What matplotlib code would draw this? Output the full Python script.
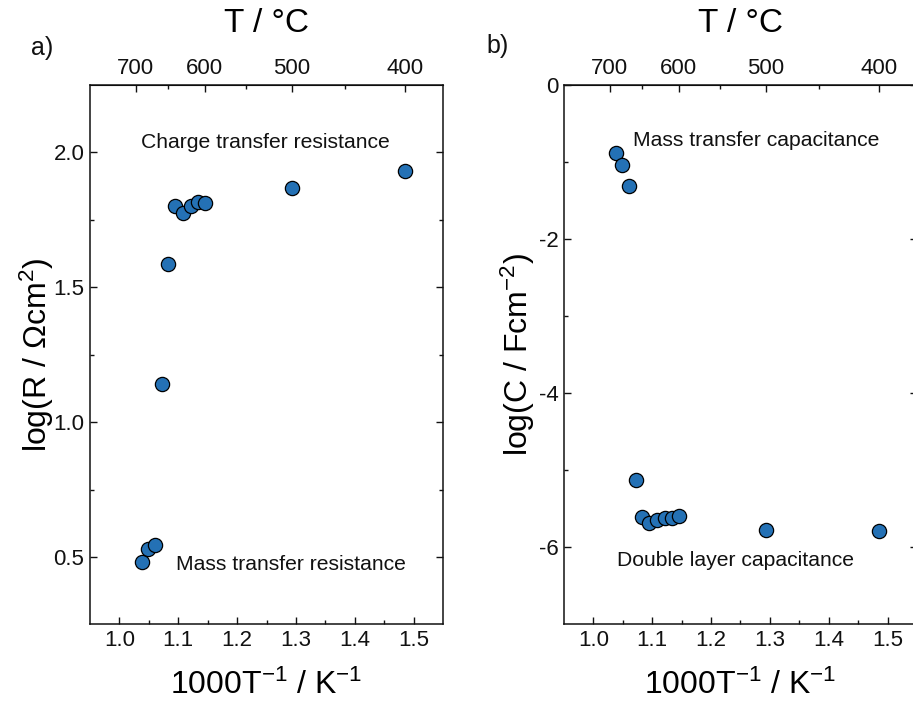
import matplotlib
matplotlib.use("Agg")
import matplotlib.pyplot as plt
import numpy as np

plt.rcParams["font.family"] = ["Liberation Sans", "DejaVu Sans"]
plt.rcParams["mathtext.fontset"] = "custom"
plt.rcParams["mathtext.rm"] = "Liberation Sans"
plt.rcParams["mathtext.it"] = "Liberation Sans:italic"
plt.rcParams["mathtext.bf"] = "Liberation Sans:bold"

# 1000/T values (same temperatures in both panels)
inv_T = [1.038, 1.049, 1.060, 1.072, 1.083, 1.095, 1.108, 1.121, 1.133, 1.146, 1.293, 1.486]

# panel a: log(R / Ohm cm2)
log_R = [0.48, 0.53, 0.545, 1.14, 1.585, 1.80, 1.775, 1.80, 1.815, 1.812, 1.867, 1.93]

# panel b: log(C / F cm-2)
log_C = [-0.88, -1.04, -1.31, -5.12, -5.61, -5.685, -5.64, -5.62, -5.615, -5.595, -5.77, -5.79]

temp_major = [700, 600, 500, 400]
temp_minor = [650, 550, 450]

BLUE = "#2471b5"
INK = "#111111"
TICK_FS = 16
LABEL_FS = 23
NOTE_FS = 15.2


def _safe(v):
    v = np.asarray(v, dtype=float)
    return np.where(np.abs(v) < 1e-9, 1e-9, v)


def to_celsius(x):
    return 1000.0 / _safe(x) - 273.15


def to_inv(t):
    return 1000.0 / _safe(np.asarray(t, dtype=float) + 273.15)


def style_axes(ax, ylim, ymajor, yminor, yticklabels, ylabel, label_x):
    ax.set_xlim(0.95, 1.55)
    ax.set_ylim(*ylim)
    ax.set_xticks([1.0, 1.1, 1.2, 1.3, 1.4, 1.5])
    ax.set_xticks([1.05, 1.15, 1.25, 1.35, 1.45], minor=True)
    ax.set_xticklabels(["1.0", "1.1", "1.2", "1.3", "1.4", "1.5"])
    ax.set_yticks(ymajor)
    ax.set_yticks(yminor, minor=True)
    ax.set_yticklabels(yticklabels)
    ax.tick_params(which="both", direction="in", top=False, right=True,
                   width=1.0, colors=INK, labelsize=TICK_FS, pad=4)
    ax.tick_params(which="major", length=5)
    ax.tick_params(which="minor", length=3)
    for sp in ax.spines.values():
        sp.set_linewidth(1.1)
        sp.set_color(INK)

    sec = ax.secondary_xaxis("top", functions=(to_celsius, to_inv))
    sec.set_xticks(temp_major)
    sec.set_xticks(temp_minor, minor=True)
    sec.set_xticklabels([str(t) for t in temp_major])
    sec.tick_params(which="both", direction="in", width=1.0, colors=INK,
                    labelsize=TICK_FS, pad=4)
    sec.tick_params(which="major", length=5)
    sec.tick_params(which="minor", length=3)
    sec.set_xlabel("T / °C", fontsize=24, labelpad=19)

    ax.set_xlabel(r"1000T$^{-1}$ / K$^{-1}$", fontsize=LABEL_FS)
    ax.xaxis.set_label_coords(0.5, -0.083)
    ax.set_ylabel(ylabel, fontsize=LABEL_FS)
    ax.yaxis.set_label_coords(label_x, 0.5)


fig = plt.figure(figsize=(9.13, 7.03), dpi=100)
fig.patch.set_facecolor("white")

ax1 = fig.add_axes([0.0986, 0.1117, 0.3866, 0.7674])
ax2 = fig.add_axes([0.6177, 0.1117, 0.3866, 0.7674])

ax1.scatter(inv_T, log_R, s=105, color=BLUE, edgecolors="black", linewidths=0.9, zorder=3)
ax2.scatter(inv_T, log_C, s=105, color=BLUE, edgecolors="black", linewidths=0.9, zorder=3)

style_axes(ax1, (0.25, 2.25), [0.5, 1.0, 1.5, 2.0], [0.75, 1.25, 1.75],
           ["0.5", "1.0", "1.5", "2.0"], r"log(R / $\Omega$cm$^{2}$)", -0.095)
style_axes(ax2, (-7, 0), [0, -2, -4, -6], [-1, -3, -5],
           ["0", "-2", "-4", "-6"], r"log(C / Fcm$^{-2}$)", -0.077)

ax1.text(1.248, 2.037, "Charge transfer resistance", fontsize=NOTE_FS, ha="center", va="center", color=INK)
ax1.text(1.291, 0.474, "Mass transfer resistance", fontsize=NOTE_FS, ha="center", va="center", color=INK)
ax2.text(1.277, -0.72, "Mass transfer capacitance", fontsize=NOTE_FS, ha="center", va="center", color=INK)
ax2.text(1.2415, -6.17, "Double layer capacitance", fontsize=NOTE_FS, ha="center", va="center", color=INK)

fig.text(42 / 913, 1 - 48 / 703, "a)", fontsize=18, ha="center", va="center", color=INK)
fig.text(498 / 913, 1 - 46 / 703, "b)", fontsize=18, ha="center", va="center", color=INK)

fig.savefig("out.png", dpi=100, facecolor="white")
